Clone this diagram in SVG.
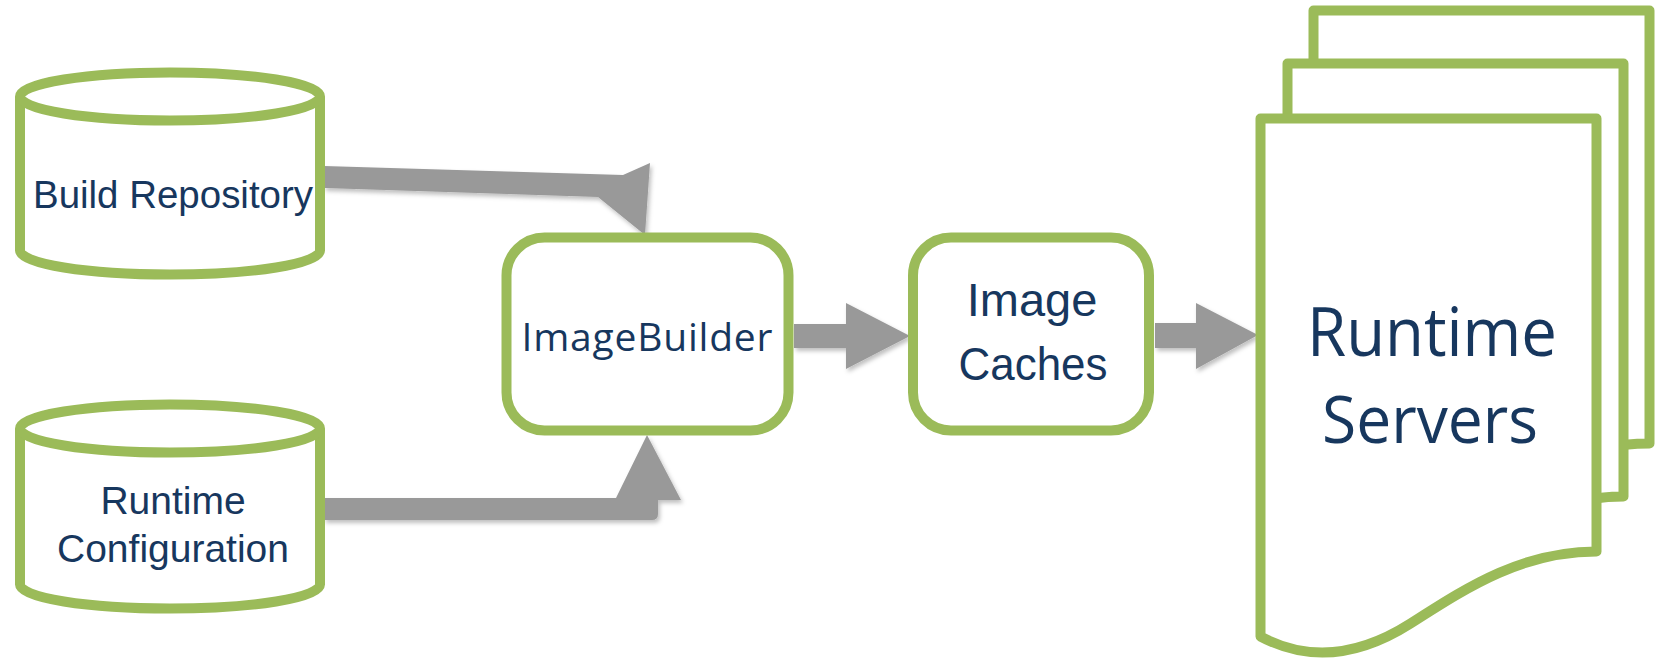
<svg xmlns="http://www.w3.org/2000/svg" xmlns:xlink="http://www.w3.org/1999/xlink" width="1665" height="665" viewBox="0 0 1665 665">
  <defs>
    <style>
      .shape { fill: #ffffff; stroke: #9BBB59; stroke-width: 10; stroke-linejoin: round; }
      .arrow { fill: #999999; filter: url(#soft); }
      .lbl { fill: #17375E; text-anchor: middle; }
      .cal { font-family: "Liberation Sans", Arial, sans-serif; }
      .seg { font-family: "Open Sans", "Noto Sans", sans-serif; }
    </style>
    <filter id="soft" x="-10%" y="-20%" width="130%" height="150%">
      <feDropShadow dx="2" dy="3" stdDeviation="2" flood-color="#000000" flood-opacity="0.25"/>
    </filter>
    <!-- one page of the server stack, origin at its top-left corner -->
    <path id="doc" d="M0,0 H336 V433 C260,433 205,470 150,505 C95,540 45,542 0,518 Z"/>
  </defs>

  <!-- connectors -->
  <g id="connectors">
    <path class="arrow" d="M324,166 L623,175 L650,163 L645,235 L598,197 L324,188 Z"/>
    <path class="arrow" d="M324,498 H616 L647,435 L681,500 H658 V514 Q658,520 652,520 H324 Z"/>
    <path class="arrow" d="M794,324 H846 V303 L910,336 L846,369 V348 H794 Z"/>
    <path class="arrow" d="M1155,323 H1196 V303 L1258,335 L1196,369 V348 H1155 Z"/>
  </g>

  <g id="build-repository">
    <path class="shape" d="M20,96.5 V250.5 A150,24 0 0 0 320,250.5 V96.5"/>
    <ellipse class="shape" cx="170" cy="96.5" rx="150" ry="24"/>
    <text class="lbl cal" x="173" y="208" font-size="38.5" textLength="280" lengthAdjust="spacingAndGlyphs">Build Repository</text>
  </g>

  <g id="runtime-configuration">
    <path class="shape" d="M20,428.5 V584.5 A150,24 0 0 0 320,584.5 V428.5"/>
    <ellipse class="shape" cx="170" cy="428.5" rx="150" ry="24"/>
    <text class="lbl cal" x="173" y="514" font-size="39">Runtime</text>
    <text class="lbl cal" x="173" y="562" font-size="39">Configuration</text>
  </g>

  <g id="imagebuilder">
    <rect class="shape" x="506.5" y="237.5" width="282" height="193" rx="38"/>
    <text class="lbl seg" x="647" y="351" font-size="39" textLength="251" lengthAdjust="spacing">ImageBuilder</text>
  </g>

  <g id="image-caches">
    <rect class="shape" x="913" y="237.5" width="236" height="193" rx="38"/>
    <text class="lbl cal" x="1032" y="316" font-size="47">Image</text>
    <text class="lbl cal" x="1033" y="380" font-size="47" textLength="149" lengthAdjust="spacingAndGlyphs">Caches</text>
  </g>

  <g id="runtime-servers">
    <use class="shape" href="#doc" xlink:href="#doc" transform="translate(1313.5,10.5)"/>
    <use class="shape" href="#doc" xlink:href="#doc" transform="translate(1287.5,63.5)"/>
    <use class="shape" href="#doc" xlink:href="#doc" transform="translate(1260.5,118.5)"/>
    <text class="lbl seg" x="1432" y="356" font-size="67" textLength="250" lengthAdjust="spacingAndGlyphs">Runtime</text>
    <text class="lbl seg" x="1430" y="443" font-size="65" textLength="216" lengthAdjust="spacingAndGlyphs">Servers</text>
  </g>
</svg>
